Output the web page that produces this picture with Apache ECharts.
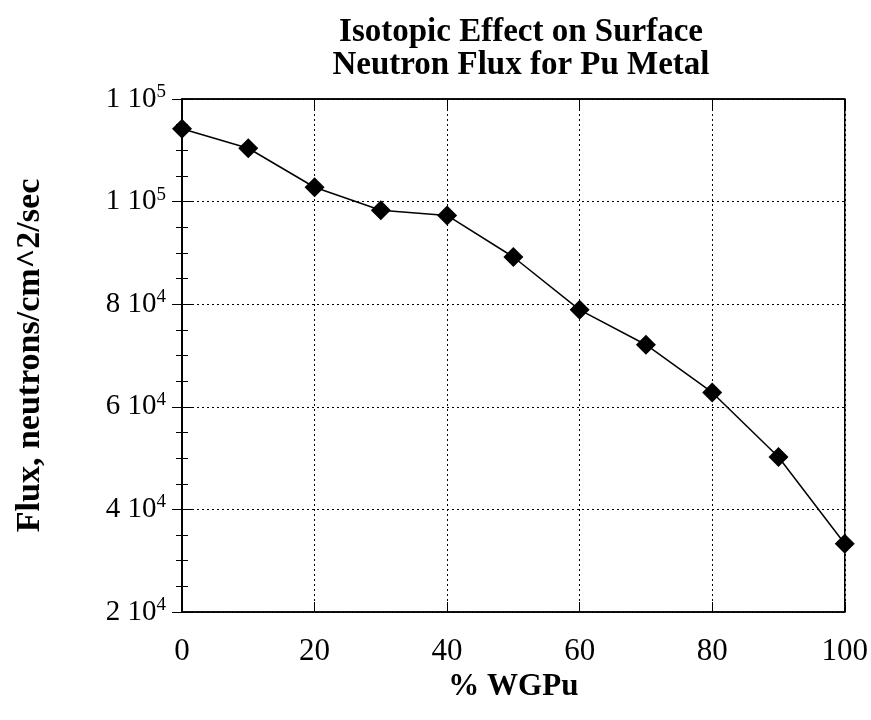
<!DOCTYPE html>
<html>
<head>
<meta charset="utf-8">
<script src="https://cdn.jsdelivr.net/npm/echarts@6/dist/echarts.min.js"></script>
<style>html,body{margin:0;padding:0;background:#fff}#c{width:871px;height:720px}</style>
</head>
<body>
<div id="c"></div>
<script>
const titleLines = ["Isotopic Effect on Surface", "Neutron Flux for Pu Metal"];
const xName = "% WGPu";
const yName = "Flux, neutrons/cm^2/sec";
const wgpu = [0, 10, 20, 30, 40, 50, 60, 70, 80, 90, 100];
const flux = [114200, 110400, 102800, 98300, 97300, 89200, 78900, 72100, 62800, 50200, 33300];
const yTickValues = [20000, 40000, 60000, 80000, 100000, 120000];
const yTickMantissa = ["2", "4", "6", "8", "1", "1"];
const yTickExp = ["4", "4", "4", "4", "5", "5"];

const font = '"Liberation Serif", "DejaVu Serif", serif';
const chart = echarts.init(document.getElementById('c'), null, {renderer: 'canvas'});

function yFmt(v) {
  const i = yTickValues.indexOf(v);
  if (i < 0) return '';
  return yTickMantissa[i] + ' 10{sup|' + yTickExp[i] + '}';
}

chart.setOption({
  animation: false,
  backgroundColor: '#fff',
  title: {
    text: titleLines.join('\n'),
    left: 516, top: 11, textAlign: 'center',
    textStyle: {fontFamily: font, fontWeight: 'bold', fontSize: 33, lineHeight: 33, color: '#000'}
  },
  grid: {left: 182, right: 24, top: 99, bottom: 108, show: true, borderColor: '#000', borderWidth: 1.5, backgroundColor: 'transparent'},
  xAxis: [{
    type: 'value', min: 0, max: 100, interval: 20,
    name: xName, nameLocation: 'middle', nameGap: 56,
    nameTextStyle: {fontFamily: font, fontWeight: 'bold', fontSize: 31, color: '#000'},
    axisLine: {show: true, lineStyle: {color: '#000', width: 1.5}},
    axisTick: {show: true, inside: true, length: 10, lineStyle: {color: '#000'}},
    axisLabel: {fontFamily: font, fontSize: 31, color: '#000', margin: 24},
    splitLine: {show: true, lineStyle: {color: '#000', type: [2, 3], width: 1}}
  }, {
    type: 'value', min: 0, max: 100, interval: 20, position: 'top',
    axisLine: {show: true, lineStyle: {color: '#000', width: 1.5}},
    axisTick: {show: true, inside: true, length: 10, lineStyle: {color: '#000'}},
    axisLabel: {show: false}, splitLine: {show: false}
  }],
  yAxis: [{
    type: 'value', min: 20000, max: 120000, interval: 20000,
    name: yName, nameLocation: 'middle', nameGap: 135, nameRotate: 90,
    nameTextStyle: {fontFamily: font, fontWeight: 'bold', fontSize: 34, color: '#000'},
    axisLine: {show: true, lineStyle: {color: '#000', width: 1.5}},
    axisTick: {show: true, inside: true, length: 10, lineStyle: {color: '#000'}},
    minorTick: {show: true, splitNumber: 4, length: 6, lineStyle: {color: '#000'}},
    axisLabel: {
      fontFamily: font, fontSize: 29, color: '#000', margin: 16,
      formatter: yFmt,
      rich: {sup: {fontFamily: font, fontSize: 19, verticalAlign: 'top', padding: [0, 0, 14, 0], color: '#000'}}
    },
    splitLine: {show: true, lineStyle: {color: '#000', type: [2, 3], width: 1}}
  }, {
    type: 'value', min: 20000, max: 120000, interval: 20000, position: 'right',
    axisLine: {show: true, lineStyle: {color: '#000', width: 1.5}},
    axisTick: {show: true, inside: true, length: 10, lineStyle: {color: '#000'}},
    minorTick: {show: true, splitNumber: 4, length: 6, lineStyle: {color: '#000'}},
    axisLabel: {show: false}, splitLine: {show: false}
  }],
  series: [{
    type: 'line',
    data: wgpu.map((x, i) => [x, flux[i]]),
    symbol: 'diamond', symbolSize: 20,
    itemStyle: {color: '#000'},
    lineStyle: {color: '#000', width: 1.5},
    clip: false
  }]
});
</script>
</body>
</html>
